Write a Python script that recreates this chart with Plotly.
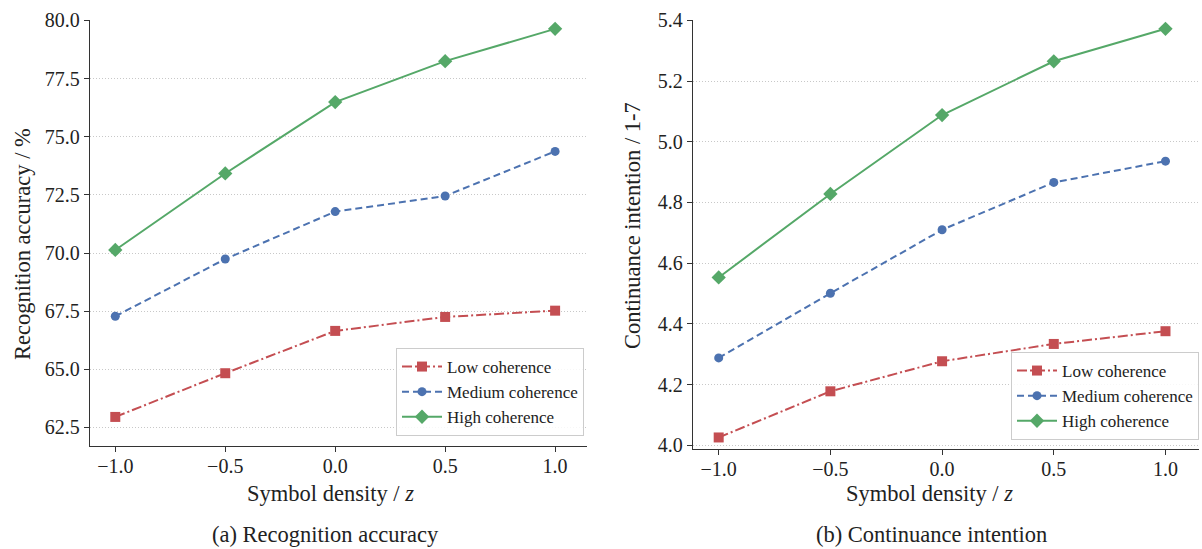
import plotly.graph_objects as go

# Symbol density (z-scored) levels on the x axis
density = [-1.0, -0.5, 0.0, 0.5, 1.0]

# Recognition accuracy (%) by coherence level
acc_low = [62.95, 64.83, 66.65, 67.25, 67.52]
acc_medium = [67.28, 69.74, 71.78, 72.45, 74.37]
acc_high = [70.13, 73.42, 76.49, 78.25, 79.64]

# Continuance intention (1-7 scale) by coherence level
ci_low = [4.026, 4.178, 4.277, 4.334, 4.376]
ci_medium = [4.288, 4.501, 4.710, 4.866, 4.936]
ci_high = [4.553, 4.828, 5.088, 5.265, 5.372]

series_names = ["Low coherence", "Medium coherence", "High coherence"]
colors = ["#c44e52", "#4c72b0", "#55a868"]
symbols = ["square", "circle", "diamond"]
marker_sizes = [10, 9, 11]
dashes = ["10px,3px,2px,3px", "7px,4px", "solid"]

FONT = "Liberation Serif, Times New Roman, serif"
W, H = 1202, 549

fig = go.Figure()

panels = [
    ([acc_low, acc_medium, acc_high], "x", "y", "legend"),
    ([ci_low, ci_medium, ci_high], "x2", "y2", "legend2"),
]
for values, xa, ya, leg in panels:
    for i, vals in enumerate(values):
        fig.add_trace(go.Scatter(
            x=density, y=vals, name=series_names[i], mode="lines+markers",
            xaxis=xa, yaxis=ya, legend=leg,
            line=dict(color=colors[i], width=2, dash=dashes[i]),
            marker=dict(symbol=symbols[i], size=marker_sizes[i], color=colors[i]),
        ))


def px_x(p):
    return p / W


def px_y(p):
    return (H - p) / H


axis_common = dict(
    automargin=False,
    showline=True, linecolor="#333333", linewidth=1.3,
    ticks="outside", ticklen=5, tickwidth=1.2, tickcolor="#333333",
    tickfont=dict(family=FONT, size=20, color="#222222"),
    zeroline=False,
)
grid_style = dict(showgrid=True, gridcolor="#c8c8c8", griddash="1px,2px", gridwidth=1)

legend_style = dict(
    xanchor="right", yanchor="bottom",
    bgcolor="rgba(255,255,255,0.85)", bordercolor="#cccccc", borderwidth=1,
    font=dict(family=FONT, size=17, color="#222222"),
    tracegroupgap=0, itemwidth=40,
)

fig.update_layout(
    width=W, height=H,
    margin=dict(l=0, r=0, t=0, b=0, autoexpand=False),
    paper_bgcolor="white", plot_bgcolor="white",
    font=dict(family=FONT, color="#222222"),
    xaxis=dict(domain=[px_x(90), px_x(587)], range=[-1.115, 1.145],
               tickvals=density, tickformat=".1f", showgrid=False,
               ticklabelstandoff=-3, anchor="y", **axis_common),
    yaxis=dict(domain=[px_y(446), px_y(20)], range=[61.7, 80.02],
               tick0=62.5, dtick=2.5, tickformat=".1f",
               anchor="x", **grid_style, **axis_common),
    xaxis2=dict(domain=[px_x(693), px_x(1199)], range=[-1.115, 1.15],
                tickvals=density, tickformat=".1f", showgrid=False,
                ticklabelstandoff=-3, anchor="y2", **axis_common),
    yaxis2=dict(domain=[px_y(449), px_y(20)], range=[3.988, 5.401],
                tick0=4.0, dtick=0.2, tickformat=".1f",
                anchor="x2", **grid_style, **axis_common),
    legend=dict(x=px_x(584), y=px_y(436), **legend_style),
    legend2=dict(x=px_x(1199), y=px_y(440), **legend_style),
)

title_font = dict(family=FONT, size=22.5, color="#222222")
caption_font = dict(family=FONT, size=22.5, color="#222222")
annotations = [
    # x-axis titles
    dict(x=px_x(330), y=px_y(493), text="Symbol density / <i>z</i>", textangle=0, font=title_font),
    dict(x=px_x(929), y=px_y(493), text="Symbol density / <i>z</i>", textangle=0, font=title_font),
    # y-axis titles
    dict(x=px_x(22), y=px_y(244), text="Recognition accuracy / %", textangle=-90, font=title_font),
    dict(x=px_x(632), y=px_y(226), text="Continuance intention / 1-7", textangle=-90, font=title_font),
    # panel captions
    dict(x=px_x(325), y=px_y(534), text="(a) Recognition accuracy", textangle=0, font=caption_font),
    dict(x=px_x(931), y=px_y(534), text="(b) Continuance intention", textangle=0, font=caption_font),
]
for a in annotations:
    fig.add_annotation(xref="paper", yref="paper", xanchor="center", yanchor="middle",
                       showarrow=False, **a)

fig.write_html("out.html")
